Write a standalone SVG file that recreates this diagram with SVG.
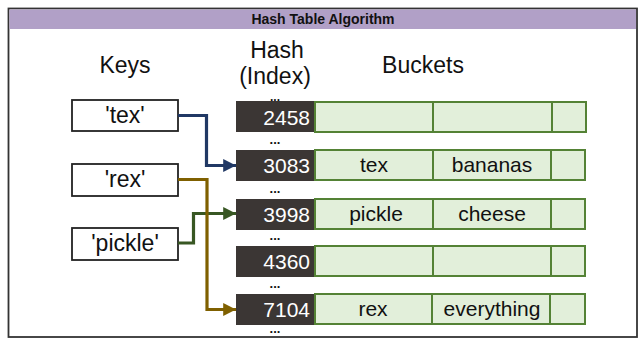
<svg xmlns="http://www.w3.org/2000/svg" width="639" height="339" viewBox="0 0 639 339">
<style>
text{font-family:"Liberation Sans",Arial,sans-serif;fill:#111}
.title{font-size:14px;font-weight:bold;text-anchor:middle}
.head{font-size:23px;text-anchor:middle}
.key{fill:#fff;stroke:#222;stroke-width:1.8}
.keyt{font-size:23px;text-anchor:middle}
.hash{fill:#3b3634}
.hasht{font-size:21px;fill:#fff;text-anchor:end}
.cell{fill:#e2efda;stroke:#548235;stroke-width:2}
.cellt{font-size:21px;text-anchor:middle}
.dots{font-size:13px;font-weight:bold;text-anchor:middle}
.conn{fill:none;stroke-width:3.2;stroke-linejoin:miter}
</style>
<defs>
<marker id="ab" viewBox="0 0 10 10" refX="10" refY="5" markerWidth="4" markerHeight="4" orient="auto" markerUnits="strokeWidth"><path d="M0,0L10,5L0,10z" fill="#203864"/></marker>
<marker id="ag" viewBox="0 0 10 10" refX="10" refY="5" markerWidth="4" markerHeight="4" orient="auto" markerUnits="strokeWidth"><path d="M0,0L10,5L0,10z" fill="#385723"/></marker>
<marker id="ao" viewBox="0 0 10 10" refX="10" refY="5" markerWidth="4" markerHeight="4" orient="auto" markerUnits="strokeWidth"><path d="M0,0L10,5L0,10z" fill="#7f6000"/></marker>
</defs>
<rect x="0" y="0" width="639" height="339" fill="#fff"/>
<rect x="8.5" y="8.5" width="628.5" height="328.5" fill="#fff" stroke="#333" stroke-width="1.8"/>
<rect x="9.5" y="9.5" width="626.5" height="19.5" fill="#b1a0c7"/>
<text class="title" x="323" y="24">Hash Table Algorithm</text>
<g id="headers">
<text class="head" x="125" y="73">Keys</text>
<text class="head" x="277" y="58">Hash</text>
<text class="head" x="275" y="84">(Index)</text>
<text class="head" x="423" y="73">Buckets</text>
</g>
<g id="key-tex"><rect class="key" x="72" y="100" width="106" height="31"/><text class="keyt" x="125" y="123">'tex'</text></g>
<g id="key-rex"><rect class="key" x="72" y="164" width="106" height="32"/><text class="keyt" x="125" y="187">'rex'</text></g>
<g id="key-pickle"><rect class="key" x="72" y="228" width="106" height="32"/><text class="keyt" x="125" y="251">'pickle'</text></g>
<g id="row-2458">
<rect class="hash" x="236" y="101" width="79" height="31"/><text class="hasht" x="310" y="125">2458</text>
<rect class="cell" x="315" y="102" width="118" height="30"/><rect class="cell" x="433" y="102" width="119" height="30"/><rect class="cell" x="552" y="102" width="34" height="30"/>
</g>
<g id="row-3083">
<rect class="hash" x="236" y="150" width="79" height="31"/><text class="hasht" x="310" y="173">3083</text>
<rect class="cell" x="315" y="150" width="118" height="30"/><rect class="cell" x="433" y="150" width="118" height="30"/><rect class="cell" x="551" y="150" width="34" height="30"/>
<text class="cellt" x="374" y="172">tex</text><text class="cellt" x="492" y="172">bananas</text>
</g>
<g id="row-3998">
<rect class="hash" x="236" y="199" width="79" height="31"/><text class="hasht" x="310" y="222">3998</text>
<rect class="cell" x="315" y="199" width="118" height="30"/><rect class="cell" x="433" y="199" width="118" height="30"/><rect class="cell" x="551" y="199" width="34" height="30"/>
<text class="cellt" x="376" y="221">pickle</text><text class="cellt" x="492" y="221">cheese</text>
</g>
<g id="row-4360">
<rect class="hash" x="236" y="246" width="79" height="31"/><text class="hasht" x="310" y="269">4360</text>
<rect class="cell" x="315" y="246" width="118" height="30"/><rect class="cell" x="433" y="246" width="118" height="30"/><rect class="cell" x="551" y="246" width="34" height="30"/>
</g>
<g id="row-7104">
<rect class="hash" x="236" y="294" width="79" height="31"/><text class="hasht" x="310" y="317">7104</text>
<rect class="cell" x="315" y="294" width="117" height="30"/><rect class="cell" x="432" y="294" width="118" height="30"/><rect class="cell" x="550" y="294" width="35" height="30"/>
<text class="cellt" x="373" y="316">rex</text><text class="cellt" x="492" y="316">everything</text>
</g>
<g id="dots">
<text class="dots" x="275" y="101" style="font-size:12px">...</text>
<text class="dots" x="275" y="144">...</text>
<text class="dots" x="275" y="193">...</text>
<text class="dots" x="275" y="240">...</text>
<text class="dots" x="275" y="288">...</text>
<text class="dots" x="275" y="333">...</text>
</g>
<g id="connectors">
<path class="conn" stroke="#203864" marker-end="url(#ab)" d="M178,115.5H206.5V165.5H236"/>
<path class="conn" stroke="#385723" marker-end="url(#ag)" d="M178,243H193.5V213.5H236"/>
<path class="conn" stroke="#7f6000" marker-end="url(#ao)" d="M178,179.5H207V309.5H236"/>
</g>
</svg>
